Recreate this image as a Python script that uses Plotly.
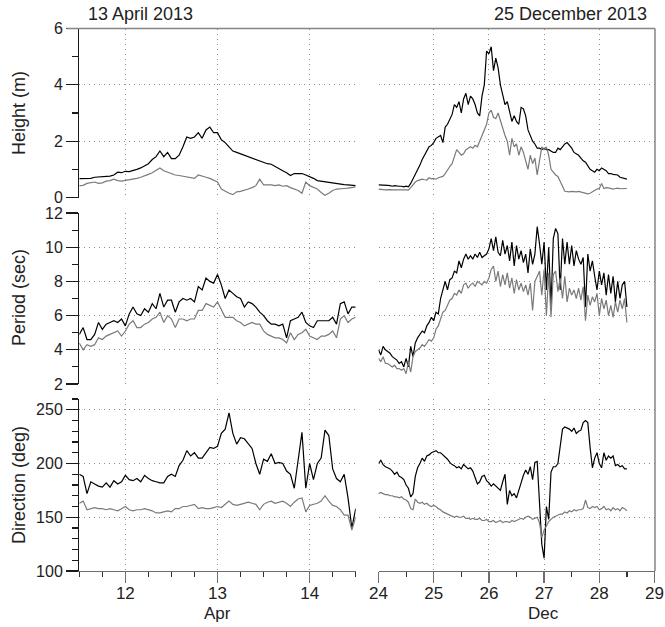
import plotly.graph_objects as go

# ---------------- data (hourly samples) ----------------
# Left column: 11.5 Apr -> 14.5 Apr 2013 (hourly)
apr_start = 11.5
# Right column: 24 Dec -> 28.5 Dec 2013 (hourly)
dec_start = 24.0

apr_height_black = [0.67,0.67,0.67,0.68,0.72,0.73,0.74,0.75,0.76,0.8,0.9,0.88,0.93,0.92,0.95,1.0,1.05,1.12,1.2,1.35,
    1.45,1.65,1.45,1.6,1.38,1.38,1.5,1.8,2.15,2.1,2.15,2.3,2.1,2.4,2.5,2.3,2.3,2.05,1.95,1.8,
    1.65,1.6,1.55,1.5,1.45,1.4,1.35,1.3,1.25,1.2,1.18,1.1,1.0,0.95,0.88,0.78,0.85,0.85,0.85,0.8,
    0.75,0.68,0.6,0.58,0.55,0.52,0.5,0.48,0.47,0.46,0.45,0.43,0.42]
apr_height_gray = [0.42,0.43,0.5,0.52,0.55,0.5,0.52,0.58,0.6,0.65,0.6,0.58,0.6,0.62,0.64,0.68,0.72,0.76,0.82,0.88,
    0.95,1.05,0.95,0.9,0.85,0.8,0.78,0.75,0.72,0.7,0.68,0.8,0.75,0.72,0.68,0.62,0.55,0.3,0.22,0.15,
    0.1,0.2,0.22,0.25,0.3,0.35,0.42,0.65,0.45,0.45,0.45,0.42,0.45,0.4,0.42,0.35,0.3,0.25,0.15,0.55,
    0.42,0.35,0.3,0.18,0.08,0.15,0.25,0.3,0.3,0.32,0.33,0.35,0.38]

apr_period_black = [4.9,5.3,4.6,4.6,4.9,5.6,5.2,5.5,5.6,5.7,5.6,5.8,5.4,6.1,6.5,6.1,6.0,6.4,6.2,6.7,
    6.4,7.3,6.5,6.9,6.9,6.2,6.8,7.0,6.9,7.0,6.8,7.7,7.5,8.2,8.0,7.9,8.4,7.8,7.0,7.5,
    7.3,7.1,7.0,6.5,6.8,6.7,6.5,6.2,6.0,5.7,5.5,5.5,5.4,5.5,4.7,5.7,5.8,5.9,6.2,5.6,
    5.4,5.3,5.7,5.7,5.7,5.7,5.9,5.5,6.7,6.8,6.1,6.5,6.5]
apr_period_gray = [4.4,4.0,4.3,4.2,4.3,4.7,4.6,4.8,4.9,5.0,5.1,4.8,5.1,5.5,5.7,5.3,5.3,5.5,5.6,5.8,
    5.9,6.2,5.6,6.0,5.8,5.3,5.8,5.8,5.7,5.8,5.8,6.3,6.3,6.7,6.6,6.5,6.8,6.3,5.9,5.9,
    5.9,5.7,5.6,5.4,5.5,5.6,5.5,5.5,5.1,4.9,4.8,4.7,4.7,4.6,4.4,5.0,4.6,4.9,5.0,5.2,
    4.8,4.7,4.6,4.8,4.8,4.9,5.1,4.7,5.8,6.0,5.6,5.8,5.9]

apr_dir_black = [190,188,172,183,181,179,178,182,178,184,181,183,189,185,184,186,183,189,186,184,
    183,182,182,188,190,188,198,203,212,207,210,205,205,210,215,214,216,228,232,247,
    228,218,224,223,218,214,200,190,204,202,209,200,201,200,193,190,177,205,229,177,
    200,185,200,205,231,226,195,186,183,190,168,140,158]
apr_dir_gray = [163,165,157,158,159,158,158,157,158,157,156,158,160,157,156,157,157,158,157,156,
    154,154,155,156,155,158,158,160,160,161,162,158,159,158,158,159,160,159,162,165,
    162,161,162,163,164,163,162,157,162,164,165,163,164,165,163,160,164,167,168,155,
    161,162,163,165,170,165,161,160,157,152,152,138,150]

dec_height_black = [0.45,0.45,0.44,0.44,0.43,0.42,0.4,0.42,0.4,0.4,0.4,0.38,0.4,0.38,0.5,0.65,0.8,1.0,1.15,1.35,
    1.5,1.6,1.8,1.85,1.95,2.1,2.15,2.2,1.95,2.5,2.6,2.8,2.95,3.3,3.2,3.4,3.0,3.5,3.7,3.3,
    3.6,3.5,3.3,3.0,2.9,3.6,4.0,5.2,5.1,5.35,4.5,4.95,4.6,4.0,3.6,3.3,3.4,3.1,2.7,2.9,
    2.7,2.6,3.2,3.15,2.9,2.4,2.2,2.0,1.9,1.75,1.75,1.7,1.75,1.7,1.7,1.65,1.6,1.6,1.75,1.7,
    1.8,1.9,1.95,1.85,1.75,1.6,1.55,1.5,1.4,1.3,1.25,1.1,1.0,0.95,0.9,1.0,0.95,1.05,1.0,0.95,
    0.85,0.85,0.82,0.8,0.8,0.72,0.7,0.68,0.65]
dec_height_gray = [0.3,0.28,0.28,0.27,0.28,0.28,0.27,0.28,0.27,0.27,0.28,0.27,0.27,0.26,0.35,0.45,0.55,0.6,0.62,0.65,
    0.63,0.62,0.7,0.66,0.68,0.65,0.7,0.72,0.75,0.85,1.0,1.1,1.2,1.45,1.7,1.6,1.5,1.55,1.7,1.75,
    1.8,1.75,1.85,1.8,2.0,2.2,2.4,2.6,3.0,3.1,2.85,2.8,3.0,2.7,2.4,2.2,2.0,1.5,2.1,1.8,
    1.9,1.5,1.8,1.6,1.3,1.0,1.5,1.2,1.4,0.8,1.3,1.8,1.7,1.8,1.5,1.0,0.9,0.8,0.75,0.6,
    0.4,0.22,0.2,0.2,0.22,0.2,0.2,0.22,0.2,0.18,0.15,0.13,0.15,0.2,0.28,0.3,0.32,0.5,0.32,0.35,
    0.34,0.32,0.3,0.32,0.33,0.31,0.32,0.33,0.32]

dec_period_black = [4.0,3.7,4.2,4.0,3.9,3.8,3.6,3.5,3.4,3.2,3.3,3.0,3.5,3.0,4.2,3.6,4.4,4.7,4.9,5.1,
    5.0,5.4,5.6,5.9,5.7,6.2,6.1,7.0,7.5,8.0,7.5,8.1,8.2,8.6,8.5,9.2,8.8,9.3,9.6,9.3,
    9.5,9.3,9.6,9.4,9.7,9.4,9.5,9.6,9.9,10.5,9.8,10.6,9.7,9.5,10.4,9.6,10.1,9.2,10.3,8.9,
    10.1,9.3,9.8,9.1,9.6,8.5,9.9,9.0,9.6,11.2,10.2,9.0,10.3,7.5,10.0,6.5,10.5,11.1,10.8,7.5,
    10.5,9.0,10.3,9.0,10.1,8.9,9.8,9.3,9.0,9.4,6.5,9.6,8.6,9.2,8.3,7.5,8.6,7.8,8.5,7.2,
    8.4,7.3,8.3,6.8,8.0,7.0,7.8,8.0,6.5]
dec_period_gray = [3.5,3.3,3.6,3.2,3.2,3.1,3.0,3.1,2.9,2.9,2.8,2.9,2.6,3.3,2.7,3.6,3.9,4.0,4.1,4.3,
    4.2,4.4,4.6,4.5,4.7,5.2,5.4,5.8,6.2,6.3,6.6,6.9,7.0,7.3,7.2,7.5,7.3,7.8,7.9,7.6,
    7.8,7.9,7.7,8.0,7.9,7.8,8.0,7.9,8.2,8.7,8.9,8.0,8.6,7.7,8.4,7.8,8.5,7.6,8.2,7.3,
    8.1,7.5,7.9,7.4,7.8,7.2,7.9,6.3,8.0,8.3,8.6,7.2,8.7,6.0,8.5,5.9,8.4,8.6,7.4,8.2,
    7.0,8.3,6.8,7.6,7.2,7.5,7.0,7.6,6.9,7.7,5.7,7.2,6.6,7.1,6.8,7.3,6.0,7.0,6.4,6.9,
    6.0,6.6,5.9,6.8,6.2,6.9,6.4,7.0,5.6]

dec_dir_black = [200,203,199,197,196,195,193,190,192,188,187,185,180,177,169,172,188,196,200,205,
    202,207,208,210,211,212,210,210,208,206,204,201,199,198,196,197,195,199,197,195,
    196,193,187,181,183,188,189,184,182,179,181,179,177,175,183,190,162,175,170,172,
    168,176,182,189,194,190,197,185,201,202,168,125,112,160,148,192,197,197,200,215,
    232,234,233,232,230,233,228,230,231,238,240,238,215,196,205,210,200,196,210,203,
    207,205,207,198,199,197,198,195,195]
dec_dir_gray = [172,173,172,171,171,170,170,169,169,168,169,167,166,164,158,157,167,164,163,164,
    162,163,161,160,161,160,158,157,155,154,153,152,151,150,151,150,150,151,149,149,
    148,149,148,148,149,147,147,148,146,146,147,145,146,147,145,146,146,145,147,146,
    147,148,149,148,150,151,150,148,149,150,145,131,138,142,146,148,150,151,152,153,
    153,155,154,156,155,157,156,157,157,158,166,159,158,160,159,160,157,158,160,157,
    158,156,159,157,158,156,159,158,156]

apr_ticks = [12, 13, 14]
dec_ticks = [24, 25, 26, 27, 28, 29]
left_title = "13 April 2013"
right_title = "25 December 2013"

# ---------------- figure ----------------
W, H = 665, 627
FONT = "Liberation Sans, Arial, Helvetica, sans-serif"
TXT = "#222222"
GRID = "#8c8c8c"
DOT = "1px,4px"
TICKFONT = 16

def px_x(p):
    return p / W

def px_y(p):
    return 1 - p / H

apr_x = [apr_start + i / 24 for i in range(len(apr_height_black))]
dec_x = [dec_start + i / 24 for i in range(len(dec_height_black))]

fig = go.Figure()

panels = [
    (1, apr_x, apr_height_black, apr_height_gray),
    (2, dec_x, dec_height_black, dec_height_gray),
    (3, apr_x, apr_period_black, apr_period_gray),
    (4, dec_x, dec_period_black, dec_period_gray),
    (5, apr_x, apr_dir_black, apr_dir_gray),
    (6, dec_x, dec_dir_black, dec_dir_gray),
]
for n, xs, blk, gry in panels:
    xa = "x" if n == 1 else f"x{n}"
    ya = "y" if n == 1 else f"y{n}"
    fig.add_trace(go.Scatter(x=xs, y=blk, mode="lines", line=dict(color="#000000", width=1.2),
                             xaxis=xa, yaxis=ya, showlegend=False, hoverinfo="skip"))
    fig.add_trace(go.Scatter(x=xs, y=gry, mode="lines", line=dict(color="#7a7a7a", width=1.2),
                             xaxis=xa, yaxis=ya, showlegend=False, hoverinfo="skip"))

left_dom = [px_x(79.3), px_x(355.7)]
right_dom = [px_x(378.5), px_x(654.5)]
row_dom = {
    0: [px_y(197.5), px_y(28.5)],
    1: [px_y(384), px_y(213)],
    2: [px_y(571), px_y(399)],
}
yranges = {0: ([0, 6], 0, 2, 1), 1: ([2, 12], 2, 2, 1), 2: ([100, 260], 100, 50, 10)}

layout = dict(
    template="none",
    width=W, height=H, margin=dict(l=0, r=0, t=0, b=0, pad=0, autoexpand=False),
    paper_bgcolor="white", plot_bgcolor="white",
    font=dict(family=FONT, size=17, color=TXT),
    showlegend=False,
)

for n in range(1, 7):
    row = (n - 1) // 2
    left = (n % 2 == 1)
    xkey = "xaxis" if n == 1 else f"xaxis{n}"
    ykey = "yaxis" if n == 1 else f"yaxis{n}"
    ya = "y" if n == 1 else f"y{n}"
    xa = "x" if n == 1 else f"x{n}"
    bottom = row == 2
    xd = dict(
        domain=left_dom if left else right_dom,
        range=[11.5, 14.5] if left else [24, 29],
        tickvals=apr_ticks if left else dec_ticks,
        showgrid=True, gridcolor=GRID, griddash=DOT, gridwidth=1,
        zeroline=False, anchor=ya, fixedrange=True, automargin=False,
    )
    if bottom:
        xd.update(showline=True, linecolor="#6e6e6e", linewidth=1.3,
                  ticks="outside", ticklen=11, tickwidth=1.3, tickcolor="#6e6e6e",
                  showticklabels=True, tickfont=dict(size=TICKFONT + 1, color=TXT),
                  ticklabelstandoff=-5,
                  minor=dict(dtick=0.25 if left else 0.5, tick0=12 if left else 24,
                             ticks="outside", ticklen=5, tickwidth=1.2,
                             tickcolor="#333333", showgrid=False))
    else:
        xd.update(showline=False, ticks="", showticklabels=False)
    layout[xkey] = xd

    rng, t0, dt, mdt = yranges[row]
    yd = dict(
        domain=row_dom[row], range=rng, tick0=t0, dtick=dt,
        showgrid=True, gridcolor=GRID, griddash=DOT, gridwidth=1,
        zeroline=False, anchor=xa, fixedrange=True, automargin=False,
    )
    if left:
        yd.update(showline=True, linecolor="#1a1a1a", linewidth=1.3,
                  ticks="outside", ticklen=12, tickwidth=1.3, tickcolor="#1a1a1a",
                  showticklabels=True, tickfont=dict(size=TICKFONT, color=TXT),
                  minor=dict(dtick=mdt, tick0=t0, ticks="outside", ticklen=6,
                             tickwidth=1.2, tickcolor="#1a1a1a", showgrid=False))
    else:
        yd.update(showline=False, ticks="", showticklabels=False)
    layout[ykey] = yd

fig.update_layout(**layout)

# frame lines (top and right)
fig.add_shape(type="line", xref="paper", yref="paper",
              x0=px_x(66.5), x1=px_x(655), y0=px_y(28.5), y1=px_y(28.5),
              line=dict(color="#858585", width=1.5))
fig.add_shape(type="line", xref="paper", yref="paper",
              x0=px_x(655), x1=px_x(655), y0=px_y(28.5), y1=px_y(571),
              line=dict(color="#858585", width=1.5))

def ann(text, x, y, xanchor="center", angle=0, size=17):
    fig.add_annotation(text=text, xref="paper", yref="paper", x=px_x(x), y=px_y(y),
                       xanchor=xanchor, yanchor="middle", showarrow=False,
                       textangle=angle, font=dict(size=size, color=TXT, family=FONT))

ann(left_title, 86, 14, xanchor="left", size=18)
ann(right_title, 649, 14, xanchor="right", size=18)
ann("Height (m)", 19, 113, angle=-90, size=18)
ann("Period (sec)", 19, 298, angle=-90, size=18)
ann("Direction (deg)", 19, 485, angle=-90, size=18)
ann("Apr", 217, 613, size=17)
ann("Dec", 543, 613, size=17)

fig.write_html("out.html", config={"displayModeBar": False, "staticPlot": True},
               post_script="document.body.style.margin='0';document.body.style.padding='0';")
